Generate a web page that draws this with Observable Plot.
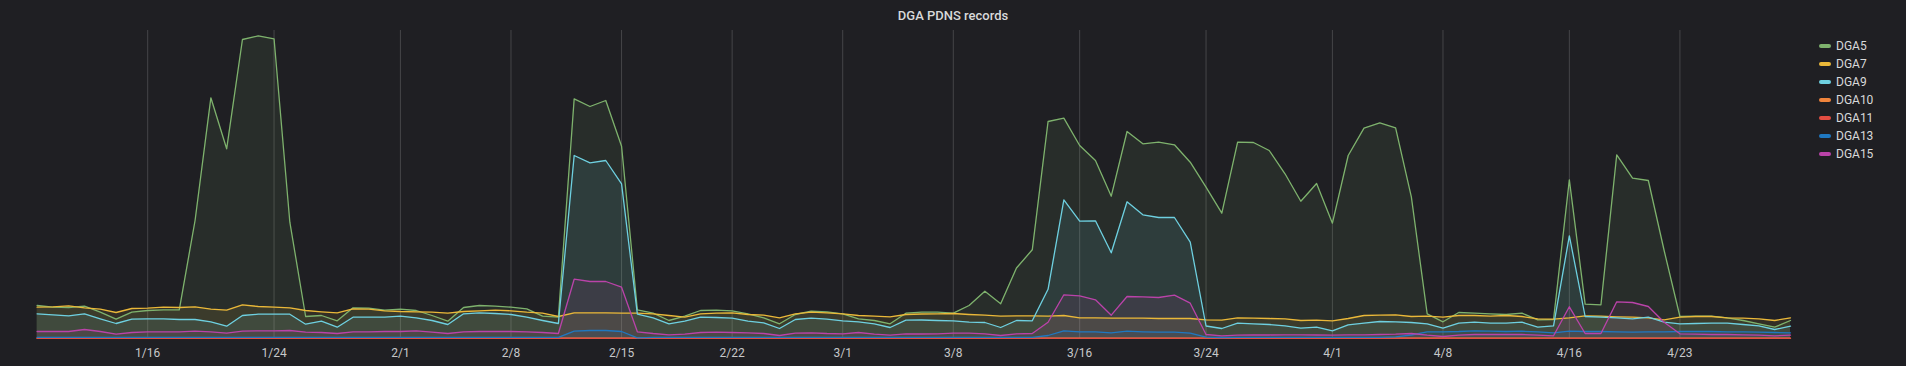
<!DOCTYPE html>
<html><head><meta charset="utf-8">
<script src="https://cdn.jsdelivr.net/npm/d3@7"></script>
<script src="https://cdn.jsdelivr.net/npm/@observablehq/plot@0.6"></script>
<style>
html,body{margin:0;padding:0;background:#1f1f23;}
#wrap{position:relative;width:1906px;height:366px;overflow:hidden;font-family:Roboto,"Helvetica Neue",Arial,sans-serif;}
#title{height:22px;padding-top:8px;text-align:center;color:#d8d9da;font-size:13px;font-weight:500;line-height:16px;}
#chart svg{display:block;}
#legend{position:absolute;left:1819px;top:37px;}
.item{display:flex;align-items:center;height:18px;color:#d8d9da;font-size:12px;}
.sw{width:12px;height:4px;border-radius:2px;margin-right:5px;}
</style></head><body>
<div id="wrap"><div id="title">DGA PDNS records</div><div id="chart"></div><div id="legend"></div></div>
<script>
const seriesNames = ["DGA5","DGA7","DGA9","DGA10","DGA11","DGA13","DGA15"];
const seriesColors = ["#7EB26D","#EAB839","#6ED0E0","#EF843C","#E24D42","#1F78C1","#BA43A9"];
const startDay = "2021-01-09";
const endDay = "2021-05-01";
const tickDays = ["2021-01-16","2021-01-24","2021-02-01","2021-02-08","2021-02-15","2021-02-22","2021-03-01","2021-03-08","2021-03-16","2021-03-24","2021-04-01","2021-04-08","2021-04-16","2021-04-23"];

const DGA5 = [330,313,310,323,263,193,263,280,287,287,
1180,2407,1897,2990,3027,2997,1163,220,230,177,
307,303,283,293,280,230,173,310,330,323,
313,297,223,213,2397,2320,2380,1923,287,253,
180,223,280,283,277,247,207,147,240,273,
267,247,197,180,147,253,263,263,253,330,
473,347,705,887,2170,2203,1930,1780,1423,2070,
1947,1963,1937,1763,1513,1253,1963,1960,1880,1647,
1373,1550,1153,1830,2103,2157,2107,1413,247,167,
260,253,247,240,253,187,190,1587,343,337,
1837,1603,1580,880,220,223,223,207,180,147,
113,180];
const DGA7 = [313,317,327,307,293,260,300,303,313,310,
317,293,283,337,320,313,307,280,267,257,
297,293,277,270,267,263,253,270,277,283,
277,263,253,220,257,257,257,253,253,247,
230,213,247,253,257,240,233,207,247,263,
257,247,230,223,217,240,245,247,250,240,
233,223,227,227,223,230,207,207,203,203,
203,200,200,200,187,183,207,203,200,197,
180,183,177,200,230,233,237,220,223,213,
230,230,223,230,220,197,193,207,227,223,
217,213,207,187,213,220,220,207,203,197,
180,207];
const DGA9 = [247,237,227,247,197,150,193,197,197,190,
190,167,123,230,243,243,243,143,173,113,
213,213,213,223,207,180,140,247,257,250,
240,213,180,150,1830,1757,1780,1547,243,207,
147,173,213,210,203,173,157,100,190,203,
193,177,167,147,110,183,185,180,177,163,
160,110,180,177,492,1387,1173,1177,857,1367,
1237,1210,1210,963,125,100,153,147,140,127,
103,113,77,137,153,170,167,160,147,103,
153,163,153,153,163,113,127,1027,220,213,
207,197,213,163,147,150,153,153,140,127,
90,123];
const DGA10 = [3,3,3,3,3,3,3,3,3,3, 3,3,3,3,3,3,3,3,3,3, 3,3,3,3,3,3,3,3,3,3,
3,3,3,3,4,4,4,4,3,3, 3,3,3,3,3,3,3,3,3,3, 3,3,3,3,3,3,3,3,3,3,
3,3,3,3,3,3,3,3,3,3, 3,3,3,3,3,3,3,3,3,3, 3,3,3,3,3,3,3,3,3,3,
3,3,3,3,3,3,3,3,3,3, 3,3,3,3,3,3,3,3,3,3, 3,3];
const DGA11 = [2,2,2,2,2,2,2,2,2,2, 2,2,2,2,2,2,2,2,2,2, 2,2,2,2,2,2,2,2,2,2,
2,2,2,2,2,2,2,2,2,2, 2,2,2,2,2,2,2,2,2,2, 2,2,2,2,2,2,2,2,2,2,
2,2,2,2,2,2,2,2,2,2, 2,2,2,2,2,2,2,2,2,2, 2,2,2,2,2,2,2,2,2,2,
2,2,2,2,2,2,2,2,2,2, 2,2,2,2,2,2,2,2,2,2, 2,2];
const DGA13 = [12,12,12,12,12,12,12,12,12,12, 12,12,12,12,12,12,12,12,12,12,
12,12,12,12,12,12,12,12,12,12, 12,12,12,12,73,80,80,70,7,12,
12,12,12,12,12,12,12,12,12,12, 12,12,12,12,12,12,12,12,12,12,
12,12,12,12,30,77,67,67,57,73, 67,63,63,53,13,10,12,12,12,12,
12,12,12,12,12,12,17,35,67,67, 70,77,73,70,73,67,57,73,70,70,
67,63,67,67,70,70,70,67,67,63, 60,57];
const DGA15 = [70,70,70,90,70,43,60,67,67,67,
73,67,53,73,77,77,80,63,60,50,
67,67,70,70,77,63,50,67,70,70,
70,67,60,50,593,570,570,513,67,50,
37,43,60,63,60,57,50,30,53,57,
50,47,60,43,33,47,45,47,53,53,
47,30,47,50,163,437,427,387,233,420,
417,410,433,353,40,27,33,35,35,37,
37,35,33,37,37,40,43,50,33,20,
33,40,40,40,40,33,27,317,50,50,
367,360,320,163,47,43,40,40,37,33,
27,33];

const seriesValues = [DGA5, DGA7, DGA9, DGA10, DGA11, DGA13, DGA15];
const dates = d3.utcDay.range(new Date(startDay), new Date(endDay));
const ticks = tickDays.map(d => new Date(d));

const data = [];
seriesNames.forEach((name, k) => {
  seriesValues[k].forEach((v, i) => data.push({date: dates[i], value: v, series: name}));
});

const chart = Plot.plot({
  width: 1906, height: 336,
  marginTop: 0, marginBottom: 28, marginLeft: 36.6, marginRight: 116,
  style: {background: "transparent", color: "#c7c8ca", fontSize: "12px", fontFamily: 'Roboto, "Helvetica Neue", Arial, sans-serif'},
  x: {type: "utc", domain: [dates[0], dates[dates.length - 1]]},
  y: {domain: [0, 3080], axis: null},
  color: {domain: seriesNames, range: seriesColors},
  marks: [
    Plot.gridX(ticks, {stroke: "#ffffff", strokeOpacity: 0.17}),
    Plot.areaY(data, {x: "date", y1: 0, y2: "value", z: "series", fill: "series", fillOpacity: 0.1}),
    Plot.lineY(data, {x: "date", y: "value", z: "series", stroke: "series", strokeWidth: 1.3}),
    Plot.axisX(ticks, {tickSize: 0, tickPadding: 10, tickFormat: d3.utcFormat("%-m/%-d"), fill: "#c7c8ca", fontSize: 12})
  ]
});
document.getElementById("chart").appendChild(chart);

const legend = d3.select("#legend");
seriesNames.forEach((name, k) => {
  const row = legend.append("div").attr("class", "item");
  row.append("div").attr("class", "sw").style("background", seriesColors[k]);
  row.append("span").text(name);
});
</script></body></html>
